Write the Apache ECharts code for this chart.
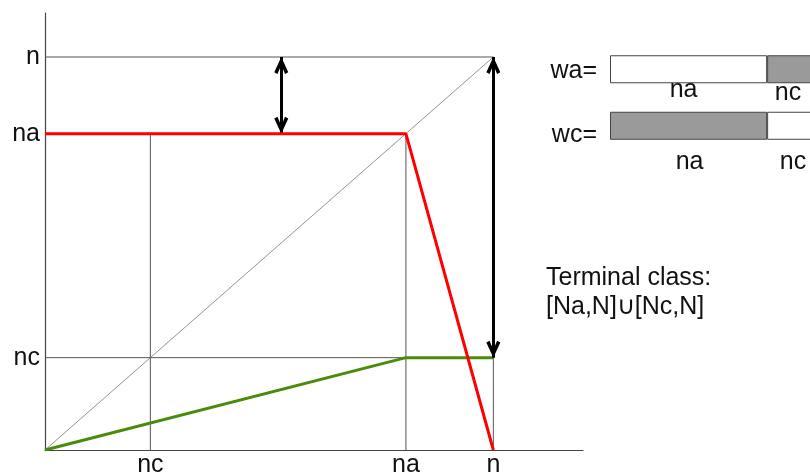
<!DOCTYPE html>
<html>
<head>
<meta charset="utf-8">
<script src="https://cdn.jsdelivr.net/npm/echarts@6/dist/echarts.min.js"></script>
<style>
html,body{margin:0;padding:0;background:#fff;}
#chart{width:810px;height:473px;}
</style>
</head>
<body>
<div id="chart"></div>
<script>
// ---- values ----
const N = 10;          // n
const NA = 8.05;       // na
const NC = 2.35;       // nc
const ARROW_X = 5.27;  // x of the first double arrow
const xTickValues = [NC, NA, N];
const xTickNames = ['nc', 'na', 'n'];
const yTickValues = [NC, NA, N];
const yTickNames = ['nc', 'na', 'n'];
const redPoints = [[0, NA], [NA, NA], [N, 0]];
const greenPoints = [[0, 0], [NA, NC], [N, NC]];
const diagonal = [[0, 0], [N, N]];
const guideH = [[[0, N], [N, N]], [[0, NC], [N, NC]]];
const guideV = [[[NC, 0], [NC, NA]], [[NA, 0], [NA, NA]], [[N, 0], [N, N]]];
const arrows = [[[ARROW_X, N], [ARROW_X, NA]], [[N, N], [N, NC]]];
const barCategories = ['wa', 'wc'];
const barAxisNames = ['wa=', 'wc='];
const barNa = [NA, NA];
const barNc = [NC, NC];
const barNaFilled = [false, true];
const barNcFilled = [true, false];
const segLabelsNa = ['na', 'na'];
const segLabelsNc = ['nc', 'nc'];
const terminalText = ['Terminal class:', '[Na,N]\u222a[Nc,N]'];

const FONT = "'Liberation Sans', Arial, sans-serif";
const FS = 25;
const GREY = '#9a9a9a';
// open "V" arrow head; the degenerate sub-path puts the tip at the symbol centre
const CHEVRON = 'path://M0,12 L5,0 L10,12 L7.7,13.4 L5,6.2 L2.3,13.4 Z M5,-13.4 L5.01,-13.4 L5,-13.39 Z';

function nameFor(vals, names, v) {
  const i = vals.findIndex(t => Math.abs(t - v) < 1e-6);
  return i >= 0 ? names[i] : '';
}

const guideSeries = [];
guideH.concat(guideV).forEach(seg => {
  guideSeries.push({
    type: 'line', xAxisIndex: 0, yAxisIndex: 0, data: seg, symbol: 'none', silent: true,
    lineStyle: {color: '#555', width: 1}, z: 2, animation: false
  });
});

const arrowMarkData = arrows.map(a => [{coord: a[0]}, {coord: a[1]}]);

const labelOffsetsNa = [[-5, -8], [1, 8]];
const labelOffsetsNc = [[-2, -5], [3, 8]];

const chart = echarts.init(document.getElementById('chart'), null, {renderer: 'canvas'});
chart.setOption({
  animation: false,
  backgroundColor: '#fff',
  textStyle: {fontFamily: FONT},
  title: {
    text: terminalText.join('\n'),
    left: 541, top: 259,
    textStyle: {fontFamily: FONT, fontSize: FS, fontWeight: 'normal', color: '#111', lineHeight: 29}
  },
  grid: [
    {left: 45, right: 227, top: 13, bottom: 23, outerBoundsMode: 'none', containLabel: false},
    {left: 610, right: -3, top: 41, height: 113, outerBoundsMode: 'none', containLabel: false}
  ],
  xAxis: [
    {
      type: 'value', min: 0, max: 12, gridIndex: 0,
      axisLine: {show: true, lineStyle: {color: '#444', width: 1.2}},
      axisTick: {show: false}, splitLine: {show: false},
      axisLabel: {customValues: xTickValues, formatter: v => nameFor(xTickValues, xTickNames, v),
        fontSize: FS, color: '#111', fontFamily: FONT, margin: 3}
    },
    {
      type: 'value', min: 0, max: NA + NC, gridIndex: 1, show: false
    }
  ],
  yAxis: [
    {
      type: 'value', min: 0, max: 11.12, gridIndex: 0,
      axisLine: {show: true, lineStyle: {color: '#444', width: 1.2}},
      axisTick: {show: false}, splitLine: {show: false},
      axisLabel: {customValues: yTickValues, formatter: v => nameFor(yTickValues, yTickNames, v),
        fontSize: FS, color: '#111', fontFamily: FONT, margin: 5, padding: [4, 0, 0, 0]}
    },
    {
      type: 'category', data: barCategories, inverse: true, gridIndex: 1,
      axisLine: {show: false}, axisTick: {show: false}, splitLine: {show: false},
      axisLabel: {
        margin: 13, fontSize: FS, color: '#111', fontFamily: FONT,
        formatter: (v, i) => '{' + v + '|' + barAxisNames[i] + '}',
        rich: {
          wa: {fontSize: FS, fontFamily: FONT, color: '#111', padding: [4, 0, 0, 0]},
          wc: {fontSize: FS, fontFamily: FONT, color: '#111', padding: [19, 0, 0, 0]}
        }
      }
    }
  ],
  series: guideSeries.concat([
    {
      type: 'line', data: diagonal, symbol: 'none', silent: true,
      lineStyle: {color: '#666', width: 0.7}, z: 2
    },
    {
      type: 'line', data: greenPoints, symbol: 'none', silent: true,
      lineStyle: {color: '#4b8b0b', width: 3}, z: 4
    },
    {
      type: 'line', data: redPoints, symbol: 'none', silent: true,
      lineStyle: {color: '#ff0000', width: 3}, z: 5
    },
    {
      type: 'line', data: [], symbol: 'none', silent: true, z: 6,
      markLine: {
        silent: true, symbol: [CHEVRON, CHEVRON], symbolSize: [14, 34],
        label: {show: false},
        lineStyle: {color: '#000', width: 3, type: 'solid'},
        itemStyle: {color: '#000'},
        emphasis: {disabled: true},
        data: arrowMarkData
      }
    },
    {
      type: 'bar', xAxisIndex: 1, yAxisIndex: 1, stack: 'w', barWidth: 28, silent: true,
      data: barNa.map((v, i) => ({
        value: v,
        itemStyle: {color: barNaFilled[i] ? GREY : '#fff', borderColor: '#444', borderWidth: 1},
        label: {show: true, position: 'bottom', formatter: segLabelsNa[i], offset: labelOffsetsNa[i],
          fontSize: FS, color: '#111', fontFamily: FONT, distance: 2}
      }))
    },
    {
      type: 'bar', xAxisIndex: 1, yAxisIndex: 1, stack: 'w', barWidth: 28, silent: true,
      data: barNc.map((v, i) => ({
        value: v,
        itemStyle: {color: barNcFilled[i] ? GREY : '#fff', borderColor: '#444', borderWidth: 1},
        label: {show: true, position: 'bottom', formatter: segLabelsNc[i], offset: labelOffsetsNc[i],
          fontSize: FS, color: '#111', fontFamily: FONT, distance: 2}
      }))
    }
  ])
});
</script>
</body>
</html>
